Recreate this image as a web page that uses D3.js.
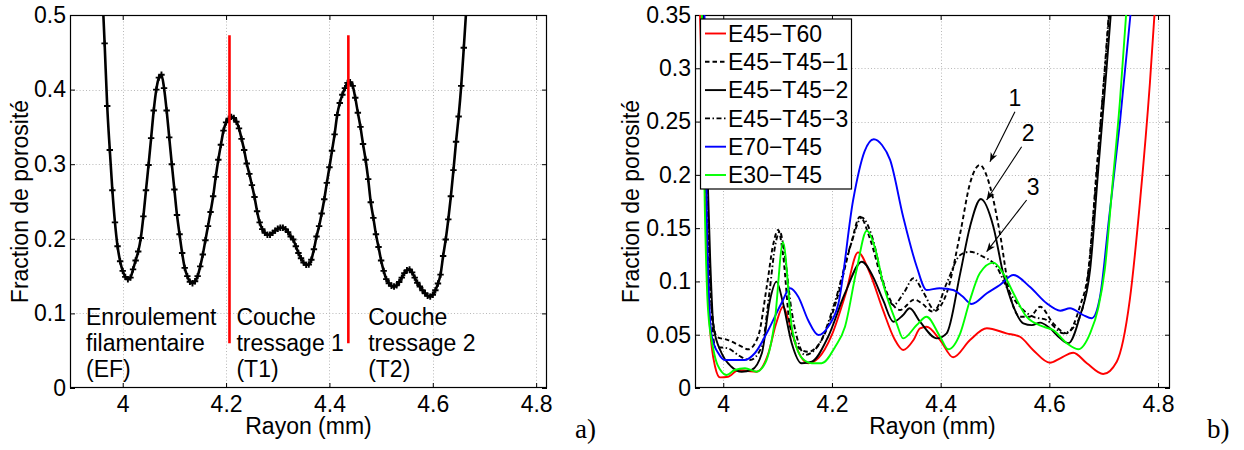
<!DOCTYPE html>
<html><head><meta charset="utf-8">
<script src="https://cdn.jsdelivr.net/npm/d3@7"></script>
<style>
body{margin:0;background:#fff}
text{font-family:"Liberation Sans",Arial,Helvetica,sans-serif;fill:#000}
</style>
</head><body>
<svg id="c" width="1244" height="450"></svg>
<script>
// ---------------- DATA ----------------
// Panel a) : porosity fraction vs radius (regular sampling grid)
const leftX0 = 3.960, leftStep = 0.005;
const leftY = [0.54,0.462,0.378,0.319,0.265,0.222,0.190,0.170,0.157,0.149,
0.1457,0.148,0.159,0.171,0.183,0.201,0.230,0.265,0.299,0.335,
0.372,0.400,0.416,0.420,0.402,0.372,0.336,0.300,0.266,0.232,
0.206,0.181,0.161,0.150,0.1425,0.1405,0.143,0.150,0.163,0.179,
0.198,0.217,0.236,0.257,0.283,0.306,0.326,0.345,0.356,0.361,
0.3635,0.362,0.357,0.348,0.334,0.319,0.301,0.287,0.272,0.256,
0.237,0.222,0.213,0.208,0.2055,0.2055,0.208,0.211,0.2135,0.2148,
0.2148,0.213,0.209,0.203,0.199,0.190,0.181,0.174,0.168,0.165,
0.1655,0.172,0.186,0.203,0.217,0.234,0.253,0.275,0.296,0.318,
0.340,0.366,0.382,0.393,0.402,0.409,0.410,0.405,0.389,0.369,
0.350,0.327,0.306,0.280,0.249,0.228,0.206,0.189,0.171,0.157,
0.146,0.1405,0.137,0.136,0.1375,0.142,0.148,0.154,0.158,0.159,
0.155,0.148,0.141,0.136,0.131,0.127,0.1235,0.1225,0.125,0.131,
0.140,0.152,0.177,0.199,0.226,0.257,0.292,0.330,0.364,0.405,
0.456,0.510];
const boundaryX = [4.2066, 4.4366];
const boundaryY = [0.06, 0.473];
const layerLabels = [
  ["Enroulement","filamentaire","(EF)"],
  ["Couche","tressage 1","(T1)"],
  ["Couche","tressage 2","(T2)"]
];
const layerLabelX = [3.929, 4.2201, 4.4749];
const layerLabelY = 0.0845;

// Panel b) : six specimens
const seriesNames = ["E45\u2212T60","E45\u2212T45\u22121","E45\u2212T45\u22122","E45\u2212T45\u22123","E70\u2212T45","E30\u2212T45"];
const e45t60X = [3.956,3.966,3.975,3.985,3.994,4.009,4.028,4.045,4.061,4.083,4.097,4.110,4.120,4.135,4.156,4.175,4.200,4.225,4.248,4.268,4.294,4.315,4.331,4.350,4.362,4.374,4.399,4.423,4.454,4.485,4.521,4.546,4.570,4.601,4.620,4.644,4.669,4.699,4.724,4.748,4.767,4.785,4.796];
const e45t60Y = [0.37,0.2,0.06,0.02,0.010,0.0106,0.0169,0.016,0.0153,0.0326,0.06,0.0763,0.0638,0.038,0.0232,0.028,0.05,0.088,0.1273,0.11,0.073,0.046,0.0357,0.045,0.056,0.0575,0.045,0.0288,0.045,0.056,0.0513,0.0481,0.0357,0.0237,0.0279,0.0331,0.0232,0.0131,0.0247,0.0826,0.176,0.286,0.37];
const e45t451X = [3.960,3.968,3.975,3.988,4.009,4.034,4.046,4.064,4.080,4.092,4.101,4.110,4.123,4.144,4.156,4.181,4.210,4.235,4.2515,4.270,4.294,4.325,4.352,4.364,4.386,4.411,4.436,4.454,4.472,4.491,4.509,4.527,4.546,4.564,4.583,4.607,4.632,4.656,4.672,4.687,4.702,4.713];
const e45t451Y = [0.37,0.2,0.1,0.0481,0.045,0.0388,0.0363,0.0481,0.095,0.135,0.1483,0.125,0.0575,0.0357,0.034,0.045,0.085,0.135,0.1607,0.14,0.0982,0.0732,0.083,0.080,0.0716,0.0889,0.1452,0.192,0.2092,0.1889,0.1452,0.0889,0.0669,0.0669,0.0763,0.0607,0.0513,0.0763,0.111,0.205,0.298,0.37];
const e45t452X = [3.962,3.970,3.976,3.982,3.997,4.015,4.034,4.052,4.071,4.086,4.098,4.110,4.126,4.144,4.163,4.193,4.224,4.255,4.275,4.294,4.313,4.330,4.343,4.362,4.393,4.411,4.436,4.454,4.474,4.497,4.515,4.534,4.552,4.568,4.583,4.601,4.620,4.635,4.656,4.675,4.690,4.705,4.716];
const e45t452Y = [0.37,0.22,0.12,0.0575,0.0326,0.02,0.0153,0.0169,0.0326,0.0826,0.0998,0.0795,0.042,0.0232,0.0247,0.0481,0.0889,0.1185,0.105,0.0826,0.0622,0.068,0.0748,0.0622,0.0466,0.0513,0.1076,0.1514,0.1773,0.1514,0.1076,0.0763,0.0607,0.059,0.0613,0.056,0.0466,0.042,0.0669,0.111,0.205,0.298,0.37];
const e45t453X = [3.962,3.970,3.976,3.985,4.009,4.030,4.049,4.071,4.085,4.096,4.104,4.113,4.125,4.140,4.150,4.175,4.205,4.235,4.255,4.275,4.294,4.313,4.333,4.350,4.368,4.389,4.411,4.436,4.454,4.478,4.503,4.521,4.546,4.570,4.595,4.626,4.650,4.670,4.687,4.702,4.712];
const e45t453Y = [0.37,0.2,0.1,0.0388,0.0372,0.030,0.0263,0.0388,0.09,0.135,0.1467,0.125,0.075,0.04,0.031,0.04,0.08,0.135,0.16,0.14,0.1,0.0779,0.09,0.103,0.09,0.0732,0.0982,0.1248,0.1279,0.1232,0.1138,0.095,0.0763,0.0669,0.0638,0.0513,0.0607,0.1,0.2,0.30,0.37];
const e70t45X = [3.965,3.970,3.979,3.991,4.003,4.040,4.058,4.083,4.107,4.123,4.138,4.156,4.175,4.193,4.212,4.239,4.260,4.277,4.292,4.307,4.331,4.356,4.374,4.398,4.423,4.440,4.457,4.485,4.509,4.534,4.564,4.595,4.620,4.638,4.662,4.678,4.693,4.710,4.730,4.753];
const e70t45Y = [0.37,0.15,0.0481,0.0326,0.0263,0.0263,0.0326,0.0544,0.0795,0.0936,0.0857,0.0638,0.0497,0.0575,0.0795,0.1764,0.222,0.2334,0.228,0.214,0.1607,0.1138,0.092,0.0936,0.092,0.086,0.0788,0.0889,0.0967,0.106,0.095,0.0795,0.0725,0.0748,0.0685,0.0654,0.085,0.16,0.25,0.37];
const e30t45X = [3.960,3.966,3.972,3.982,3.997,4.006,4.021,4.040,4.061,4.077,4.095,4.110,4.126,4.145,4.163,4.181,4.206,4.224,4.245,4.264,4.280,4.294,4.319,4.331,4.356,4.374,4.399,4.414,4.436,4.454,4.472,4.497,4.515,4.534,4.558,4.589,4.607,4.632,4.653,4.675,4.690,4.702,4.716,4.730,4.744];
const e30t45Y = [0.37,0.17,0.0732,0.0357,0.0153,0.0122,0.0169,0.0185,0.0153,0.0232,0.0638,0.1367,0.0575,0.028,0.0232,0.0232,0.0388,0.0575,0.11,0.1476,0.13,0.0982,0.0607,0.0466,0.0591,0.0669,0.0481,0.0363,0.0513,0.0826,0.1076,0.1176,0.1076,0.0889,0.0669,0.0575,0.0544,0.042,0.0363,0.0513,0.075,0.111,0.19,0.27,0.37];
const seriesX = [e45t60X,e45t451X,e45t452X,e45t453X,e70t45X,e30t45X];
const seriesY = [e45t60Y,e45t451Y,e45t452Y,e45t453Y,e70t45Y,e30t45Y];
const peakLabels = ["1","2","3"];

// tick labels
const xTicks = [4,4.2,4.4,4.6,4.8];
const xTickLabels = ["4","4.2","4.4","4.6","4.8"];
const yTicksA = [0,0.1,0.2,0.3,0.4,0.5];
const yTickLabelsA = ["0","0.1","0.2","0.3","0.4","0.5"];
const yTicksB = [0,0.05,0.1,0.15,0.2,0.25,0.3,0.35];
const yTickLabelsB = ["0","0.05","0.1","0.15","0.2","0.25","0.3","0.35"];
const xTitle = "Rayon (mm)";
const yTitle = "Fraction de porosit\u00e9";

// ---------------- STYLE / LAYOUT ----------------
const FS = 23;
const seriesColor = ["#ff0000","#000","#000","#000","#0000ff","#00ff00"];
const seriesDash = [null,"4.5,3","none","5,2.5,1.5,2.5",null,null];
const svg = d3.select("#c");
const defs = svg.append("defs");
defs.append("marker").attr("id","arr").attr("viewBox","-10 -5 12 10")
  .attr("refX",0).attr("refY",0).attr("markerWidth",12).attr("markerHeight",10)
  .attr("markerUnits","userSpaceOnUse").attr("orient","auto")
  .append("path").attr("d","M0,0 L-9,-3.6 L-6.5,0 L-9,3.6 Z").attr("fill","#000");

function panel(o){
  const x = d3.scaleLinear().domain(o.xDomain).range([o.left,o.right]);
  const y = d3.scaleLinear().domain(o.yDomain).range([o.bottom,o.top]);
  const g = svg.append("g");
  defs.append("clipPath").attr("id",o.id).append("rect")
    .attr("x",o.left).attr("y",o.top).attr("width",o.right-o.left).attr("height",o.bottom-o.top);
  const grid = g.append("g").attr("stroke","#b8b8b8").attr("stroke-width",1).attr("stroke-dasharray","1,2.2");
  grid.selectAll(".gx").data(o.xTicks.filter(d=>x(d)>o.left+1&&x(d)<o.right-1)).join("line")
    .attr("x1",d=>Math.round(x(d))+0.5).attr("x2",d=>Math.round(x(d))+0.5).attr("y1",o.top).attr("y2",o.bottom);
  grid.selectAll(".gy").data(o.yTicks.filter(d=>y(d)>o.top+1&&y(d)<o.bottom-1)).join("line")
    .attr("y1",d=>Math.round(y(d))+0.5).attr("y2",d=>Math.round(y(d))+0.5).attr("x1",o.left).attr("x2",o.right);
  const style = sel => { sel.attr("font-size",FS).attr("font-family","Liberation Sans, Arial, sans-serif");
    sel.select(".domain").remove(); sel.selectAll("line").attr("stroke","#000"); sel.selectAll("text").attr("fill","#000"); };
  g.append("g").attr("transform",`translate(0,${o.bottom})`)
    .call(d3.axisBottom(x).tickValues(o.xTicks).tickFormat((d,i)=>o.xLabels[i]).tickSizeInner(-5).tickSizeOuter(0).tickPadding(8)).call(style);
  g.append("g").attr("transform",`translate(0,${o.top})`)
    .call(d3.axisTop(x).tickValues(o.xTicks).tickFormat("").tickSizeInner(-5).tickSizeOuter(0)).call(style);
  g.append("g").attr("transform",`translate(${o.left},0)`)
    .call(d3.axisLeft(y).tickValues(o.yTicks).tickFormat((d,i)=>o.yLabels[i]).tickSizeInner(-5).tickSizeOuter(0).tickPadding(4)).call(style);
  g.append("g").attr("transform",`translate(${o.right},0)`)
    .call(d3.axisRight(y).tickValues(o.yTicks).tickFormat("").tickSizeInner(-5).tickSizeOuter(0)).call(style);
  g.append("rect").attr("x",o.left+0.5).attr("y",o.top+0.5).attr("width",o.right-o.left-1).attr("height",o.bottom-o.top-1)
    .attr("fill","none").attr("stroke","#000").attr("stroke-width",1.2);
  g.append("text").attr("x",(o.left+o.right)/2).attr("y",o.bottom+46).attr("text-anchor","middle").attr("font-size",FS).text(xTitle);
  g.append("text").attr("transform",`translate(${o.yTitleX},${(o.top+o.bottom)/2}) rotate(-90)`)
    .attr("text-anchor","middle").attr("font-size",FS).text(yTitle);
  g.append("text").attr("x",o.tagX).attr("y",438).attr("font-size",27)
    .style("font-family","Liberation Serif, DejaVu Serif, serif").text(o.tag);
  const plot = svg.append("g").attr("clip-path",`url(#${o.id})`);
  return {x,y,g,plot};
}

// ---------------- PANEL a) ----------------
const A = panel({id:"ca",left:70,right:547,top:15,bottom:388,xDomain:[3.898,4.821],yDomain:[0,0.5],
  xTicks:xTicks,xLabels:xTickLabels,yTicks:yTicksA,yLabels:yTickLabelsA,yTitleX:28,tag:"a)",tagX:575});
const leftData = leftY.map((v,i)=>[leftX0+i*leftStep, v]);
const lineA = d3.line().x(d=>A.x(d[0])).y(d=>A.y(d[1])).curve(d3.curveMonotoneX);
A.plot.append("path").datum(leftData).attr("d",lineA).attr("fill","none").attr("stroke","#000").attr("stroke-width",2.6);
A.plot.append("g").selectAll("path").data(leftData).join("path")
  .attr("transform",d=>`translate(${A.x(d[0])},${A.y(d[1])})`)
  .attr("d","M-3.2,0H3.2M0,-3.2V3.2").attr("stroke","#000").attr("stroke-width",1.9);
// boundaries
svg.append("g").selectAll("line").data(boundaryX).join("line")
  .attr("x1",d=>A.x(d)).attr("x2",d=>A.x(d)).attr("y1",A.y(boundaryY[0])).attr("y2",A.y(boundaryY[1]))
  .attr("stroke","#ff0000").attr("stroke-width",2.6);
layerLabels.forEach((lines,k)=>{
  const t = svg.append("text").attr("x",A.x(layerLabelX[k])).attr("y",A.y(layerLabelY)).attr("font-size",FS);
  lines.forEach((s,j)=>t.append("tspan").attr("x",A.x(layerLabelX[k])).attr("dy",j?26:0).text(s));
});

// ---------------- PANEL b) ----------------
const B = panel({id:"cb",left:695,right:1170,top:15,bottom:388,xDomain:[3.948,4.822],yDomain:[0,0.35],
  xTicks:xTicks,xLabels:xTickLabels,yTicks:yTicksB,yLabels:yTickLabelsB,yTitleX:639,tag:"b)",tagX:1207});
const lineB = d3.line().x(d=>B.x(d[0])).y(d=>B.y(d[1])).curve(d3.curveMonotoneX);
seriesX.forEach((xs,k)=>{
  const data = xs.map((v,i)=>[v, seriesY[k][i]]);
  B.plot.append("path").datum(data).attr("d",lineB).attr("fill","none")
    .attr("stroke",seriesColor[k]).attr("stroke-width",1.9)
    .attr("stroke-dasharray",seriesDash[k]||"none");
});
// peak annotations
const annText = [[4.5367,0.2721],[4.5612,0.2393],[4.5704,0.1886]];
const annArrow = [[4.5367,0.2593,4.4907,0.2123],[4.549,0.2264,4.4846,0.1764],[4.5582,0.1764,4.4846,0.1279]];
peakLabels.forEach((s,k)=>{
  svg.append("text").attr("x",B.x(annText[k][0])).attr("y",B.y(annText[k][1])).attr("dy","0.36em")
    .attr("text-anchor","middle").attr("font-size",FS).text(s);
  const a = annArrow[k];
  svg.append("line").attr("x1",B.x(a[0])).attr("y1",B.y(a[1])).attr("x2",B.x(a[2])).attr("y2",B.y(a[3]))
    .attr("stroke","#000").attr("stroke-width",1.1).attr("marker-end","url(#arr)");
});
// legend
const lg = svg.append("g").attr("transform",`translate(${B.x.range()[0]+5},${B.y.range()[1]+3.5})`);
lg.append("rect").attr("x",0.5).attr("y",0.5).attr("width",151).attr("height",170).attr("fill","#fff").attr("stroke","#000").attr("stroke-width",1.2);
seriesNames.forEach((s,k)=>{
  const cy = 15 + k*28.3;
  lg.append("line").attr("x1",5).attr("x2",26).attr("y1",cy).attr("y2",cy)
    .attr("stroke",seriesColor[k]).attr("stroke-width",1.9).attr("stroke-dasharray",seriesDash[k]||"none");
  lg.append("text").attr("x",28).attr("y",cy).attr("dy","0.36em").attr("font-size",FS).text(s);
});
</script>
</body></html>
